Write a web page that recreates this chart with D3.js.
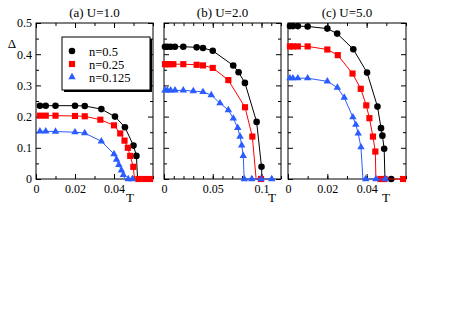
<!DOCTYPE html>
<html><head><meta charset="utf-8">
<script src="https://cdn.jsdelivr.net/npm/d3@7"></script>
<style>body{margin:0;background:#fff}svg{display:block}text{font-family:"Liberation Serif","Times New Roman",Times,serif}</style>
</head><body><svg id="c" width="463" height="328"></svg>
<script>
// ---------- data ----------
const panelTitles = ["(a) U=1.0", "(b) U=2.0", "(c) U=5.0"];
const seriesNames = ["n=0.5", "n=0.25", "n=0.125"];
const seriesColors = ["#000000", "#ff0000", "#2a5cff"];
const seriesShapes = ["circle", "square", "triangle"];
const xMax = [0.06, 0.12, 0.06];
const xMajorTicks = [[0, 0.02, 0.04], [0, 0.05, 0.1], [0, 0.02, 0.04]];
const xMinorStep = [0.01, 0.01, 0.01];
const yTicks = [0, 0.1, 0.2, 0.3, 0.4, 0.5];
const yMinorTicks = [0.05, 0.15, 0.25, 0.35, 0.45];

// panel (a) U=1.0
const aBlackT = [0.002, 0.005, 0.01, 0.02, 0.025, 0.0335, 0.0405, 0.0456, 0.050, 0.0515];
const aBlackD = [0.235, 0.235, 0.235, 0.235, 0.234, 0.224, 0.200, 0.166, 0.107, 0.074];
const aRedT = [0.002, 0.005, 0.01, 0.02, 0.025, 0.033, 0.040, 0.0432, 0.0454, 0.0471, 0.0483, 0.0499, 0.0525, 0.0555, 0.0585];
const aRedD = [0.203, 0.203, 0.203, 0.202, 0.201, 0.190, 0.172, 0.146, 0.123, 0.100, 0.074, 0.039, 0, 0, 0];
const aBlueT = [0.002, 0.005, 0.01, 0.02, 0.025, 0.0335, 0.040, 0.0413, 0.0425, 0.0438, 0.0448, 0.0473, 0.0494];
const aBlueD = [0.153, 0.153, 0.152, 0.150, 0.147, 0.121, 0.080, 0.062, 0.045, 0.028, 0.013, 0, 0];
const aTc = [0.0521, 0.0505, 0.0456];

// panel (b) U=2.0
const bBlackT = [0.001, 0.0035, 0.0068, 0.0112, 0.0198, 0.0335, 0.040, 0.050, 0.071, 0.0765, 0.083, 0.095, 0.100];
const bBlackD = [0.424, 0.424, 0.424, 0.424, 0.424, 0.422, 0.420, 0.411, 0.364, 0.342, 0.308, 0.183, 0.039];
const bRedT = [0.001, 0.0034, 0.0062, 0.0096, 0.0198, 0.0335, 0.040, 0.050, 0.066, 0.0831, 0.0906, 0.0995];
const bRedD = [0.368, 0.368, 0.368, 0.368, 0.368, 0.366, 0.364, 0.356, 0.317, 0.230, 0.136, 0];
const bBlueT = [0.001, 0.0034, 0.0068, 0.0113, 0.0198, 0.030, 0.040, 0.0485, 0.0574, 0.066, 0.0711, 0.0756, 0.078, 0.0797, 0.0813, 0.0824, 0.090, 0.0995, 0.1105];
const bBlueD = [0.284, 0.284, 0.284, 0.284, 0.284, 0.282, 0.279, 0.269, 0.243, 0.221, 0.194, 0.164, 0.136, 0.108, 0.074, 0, 0, 0, 0];
const bTc = [0.1005, 0.0945, 0.0822];

// panel (c) U=5.0
const cBlackT = [0.001, 0.0025, 0.005, 0.010, 0.020, 0.025, 0.0332, 0.0402, 0.0455, 0.0473, 0.048, 0.0489, 0.0525];
const cBlackD = [0.490, 0.490, 0.490, 0.489, 0.482, 0.466, 0.416, 0.341, 0.232, 0.163, 0.139, 0.097, 0];
const cRedT = [0.001, 0.0025, 0.005, 0.010, 0.020, 0.0253, 0.0328, 0.037, 0.0398, 0.0414, 0.0432, 0.0444, 0.047, 0.049, 0.0585];
const cRedD = [0.425, 0.425, 0.425, 0.425, 0.415, 0.397, 0.338, 0.289, 0.236, 0.195, 0.136, 0.088, 0, 0, 0];
const cBlueT = [0.001, 0.0025, 0.005, 0.010, 0.020, 0.0251, 0.0286, 0.033, 0.0345, 0.0357, 0.0371, 0.0395, 0.0447, 0.0495];
const cBlueD = [0.323, 0.323, 0.323, 0.323, 0.313, 0.293, 0.261, 0.198, 0.174, 0.146, 0.102, 0, 0, 0];
const cTc = [0.0493, 0.0447, 0.0381];

const panels = [
  {T: [aBlackT, aRedT, aBlueT], D: [aBlackD, aRedD, aBlueD], Tc: aTc},
  {T: [bBlackT, bRedT, bBlueT], D: [bBlackD, bRedD, bBlueD], Tc: bTc},
  {T: [cBlackT, cRedT, cBlueT], D: [cBlackD, cRedD, cBlueD], Tc: cTc}
];

// ---------- layout ----------
const panelLeft = [36, 164, 288];
const panelWidth = [117, 117, 118];
const tLabelX = [130, 272, 386];
const plotTop = 23, plotBottom = 179;
const FONT = "'Liberation Serif', 'Times New Roman', Times, serif";

const svg = d3.select("#c");
const y = d3.scaleLinear().domain([0, 0.5]).range([plotBottom, plotTop]);
const symType = {circle: d3.symbolCircle, square: d3.symbolSquare, triangle: d3.symbolTriangle};
const symSize = {circle: 34, square: 38, triangle: 24};

panels.forEach((p, i) => {
  const x = d3.scaleLinear().domain([0, xMax[i]]).range([panelLeft[i], panelLeft[i] + panelWidth[i]]);
  const g = svg.append("g");
  const minor = d3.range(0, xMax[i] + 1e-9, xMinorStep[i]);

  g.append("rect").attr("x", x.range()[0]).attr("y", plotTop)
    .attr("width", panelWidth[i]).attr("height", plotBottom - plotTop)
    .attr("fill", "none").attr("stroke", "#000").attr("stroke-width", 1);

  const fmt = d3.format("~g");
  const addAxis = (axis, tx, ty) => {
    const a = g.append("g").attr("transform", `translate(${tx},${ty})`).call(axis);
    a.attr("font-family", FONT).attr("font-size", 12);
    a.select(".domain").remove();
    a.selectAll("line").attr("stroke", "#000");
    a.selectAll("text").attr("fill", "#000").style("font-size", "12px").style("font-family", FONT);
    return a;
  };
  addAxis(d3.axisBottom(x).tickValues(xMajorTicks[i]).tickSize(-5).tickPadding(5).tickFormat(fmt), 0, plotBottom);
  addAxis(d3.axisBottom(x).tickValues(minor).tickSize(-3).tickFormat(""), 0, plotBottom);
  addAxis(d3.axisTop(x).tickValues(xMajorTicks[i]).tickSize(-5).tickFormat(""), 0, plotTop);
  addAxis(d3.axisTop(x).tickValues(minor).tickSize(-3).tickFormat(""), 0, plotTop);
  addAxis(d3.axisLeft(y).tickValues(yTicks).tickSize(-5).tickPadding(4).tickFormat(i === 0 ? fmt : ""), x.range()[0], 0);
  addAxis(d3.axisLeft(y).tickValues(yMinorTicks).tickSize(-3).tickFormat(""), x.range()[0], 0);
  addAxis(d3.axisRight(y).tickValues(yTicks).tickSize(-5).tickFormat(""), x.range()[1], 0);
  addAxis(d3.axisRight(y).tickValues(yMinorTicks).tickSize(-3).tickFormat(""), x.range()[1], 0);

  g.append("text").attr("x", (x.range()[0] + x.range()[1]) / 2).attr("y", 17)
    .attr("text-anchor", "middle").style("font-size", "13px").style("font-family", FONT).text(panelTitles[i]);
  g.append("text").attr("x", tLabelX[i]).attr("y", 202)
    .attr("text-anchor", "middle").style("font-size", "13px").style("font-family", FONT).text("T");

  const line = d3.line().x(d => x(d[0])).y(d => y(d[1]));
  p.T.forEach((Ts, s) => {
    const pts = Ts.map((t, k) => [t, p.D[s][k]]);
    const nonzero = pts.filter(d => d[1] > 0);
    const zeros = pts.filter(d => d[1] === 0);
    const path = nonzero.concat([[p.Tc[s], 0]], zeros);
    g.append("path").attr("d", line(path)).attr("fill", "none")
      .attr("stroke", seriesColors[s]).attr("stroke-width", 1);
    g.selectAll(null).data(pts).join("path")
      .attr("transform", d => `translate(${x(d[0])},${y(d[1])})`)
      .attr("d", d3.symbol().type(symType[seriesShapes[s]]).size(symSize[seriesShapes[s]]))
      .attr("fill", seriesColors[s]);
  });
});

svg.append("text").attr("x", 12).attr("y", 48).attr("text-anchor", "middle")
  .style("font-size", "13px").style("font-family", FONT).text("Δ");

const lg = svg.append("g");
lg.append("rect").attr("x", 64).attr("y", 39).attr("width", 88).attr("height", 53).attr("fill", "#000");
lg.append("rect").attr("x", 62).attr("y", 37).attr("width", 88).attr("height", 53)
  .attr("fill", "#fff").attr("stroke", "#000").attr("stroke-width", 1);
const legendY = [51, 64, 77];
seriesNames.forEach((name, s) => {
  lg.append("path").attr("transform", `translate(72,${legendY[s]})`)
    .attr("d", d3.symbol().type(symType[seriesShapes[s]]).size(symSize[seriesShapes[s]]))
    .attr("fill", seriesColors[s]);
  lg.append("text").attr("x", 89).attr("y", legendY[s] + 4.5)
    .style("font-size", "12.5px").style("font-family", FONT).text(name);
});
</script>
</body></html>
